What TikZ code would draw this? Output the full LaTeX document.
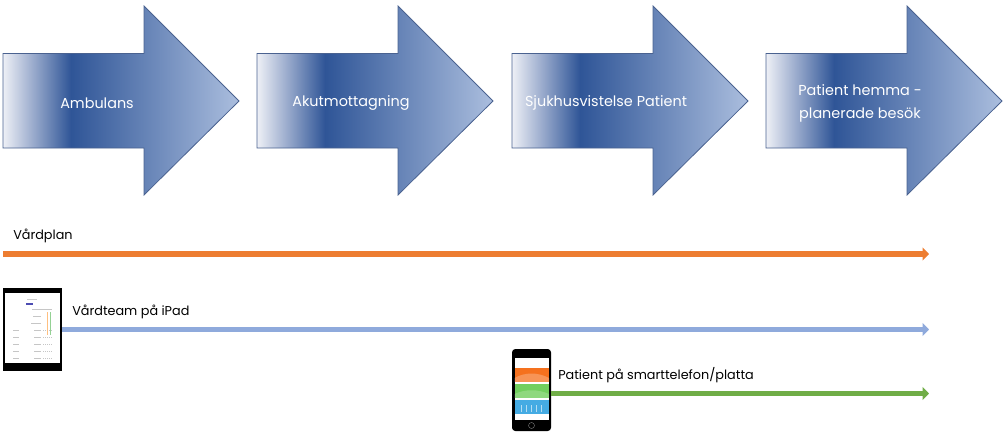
\documentclass[tikz,border=0pt]{standalone}
\usepackage{fontspec}
\setmainfont{Poppins}
\usetikzlibrary{arrows.meta}
\definecolor{fadeL}{HTML}{EEF0F6}
\definecolor{fadeB}{HTML}{9FAFCF}
\definecolor{fadeD}{HTML}{2F5597}
\definecolor{fadeR}{HTML}{ABBEDE}
\definecolor{stepedge}{HTML}{4A6290}
\definecolor{planorange}{HTML}{ED7D31}
\definecolor{teamblue}{HTML}{8FAADC}
\definecolor{patientgreen}{HTML}{70AD47}
\definecolor{bandorange}{HTML}{F5711E}
\definecolor{bandgreen}{HTML}{72CF5E}
\definecolor{bandblue}{HTML}{45ABE3}
\pgfdeclarehorizontalshading{arrowfade}{100bp}{
  color(0bp)=(fadeL); color(25bp)=(fadeL); color(31bp)=(fadeB); color(39.4bp)=(fadeD);
  color(75bp)=(fadeR); color(100bp)=(fadeR)}
\tikzset{
  steparrow/.style={shade, shading=arrowfade, draw=stepedge, line width=.6pt},
  steptext/.style={text=white, font=\fontsize{10.8}{17.25}\selectfont, align=center, inner sep=0pt},
  tracktext/.style={text=black, font=\fontsize{9.6}{13}\selectfont, anchor=west, inner sep=0pt},
  trackline/.style={line width=4.1pt, -{Triangle[length=4.8pt, width=9.5pt]}},
  device/.style={fill=black, inner sep=0pt, outer sep=0pt},
  screenrow/.style={gray!45, line width=.5pt}
}
\begin{document}
\begin{tikzpicture}[x=.75pt, y=-.75pt]
\useasboundingbox (0,0) rectangle (1005,436);
\foreach \x/\nm/\txt in {3/ambulans/Ambulans, 257/akut/Akutmottagning, 512/sjukhus/Sjukhusvistelse Patient, 766/hemma/{Patient hemma -\\planerade besök}}
{
    \path[steparrow] (\x,53.5)--(\x+141,53.5)--(\x+141,6)--(\x+236,101)--(\x+141,195)--(\x+141,148)--(\x,148)--cycle;
    \node[steptext] (\nm) at (\x+94,103) {\txt};
}

\node[tracktext] (vardplan) at (13,235.5) {Vårdplan};
\node[tracktext] (vardteam) at (72,311.5) {Vårdteam på iPad};
\node[tracktext] (patient) at (558,375) {Patient på smarttelefon/platta};

\node[device, minimum width=44.25pt, minimum height=62.25pt] (tablet) at (32.5,329.5) {};
\fill[white] (5,292.5) rectangle (60,363);
\foreach \y in {330,337,344,351,358}
{
    \draw[screenrow] (13,\y)--(19,\y);
    \draw[screenrow] (34,\y)--(41,\y);
    \draw[screenrow, densely dotted] (43,\y)--(53,\y);
}
\draw[screenrow] (32,309)--(52,309);
\draw[screenrow] (33,316)--(41,316);  \draw[screenrow] (31,323)--(41,323);
\draw[blue!40!gray, line width=1.6pt] (26,304)--(33,304);
\draw[gray!40, line width=.4pt] (27,299)--(37,299);
\draw[green!40!gray!60, line width=.4pt] (50,312)--(50,335);
\draw[orange!50, line width=.4pt] (47,312)--(47,335);

\node[device, rounded corners=2.5pt, minimum width=29.25pt, minimum height=61.5pt] (phone) at (531.5,390) {};
\fill[white] (514.5,358) rectangle (549,420);
\fill[bandorange] (514.5,368) rectangle (549,382);
\fill[bandgreen] (514.5,384) rectangle (549,398);
\fill[bandblue] (514.5,400) rectangle (549,414);
\fill[white, opacity=.25] (514.5,378) .. controls (525,372) and (538,372) .. (549,378)--(549,382)--(514.5,382)--cycle;
\fill[white, opacity=.2] (514.5,394) .. controls (525,389) and (538,389) .. (549,394)--(549,398)--(514.5,398)--cycle;
\foreach \x in {521,526,531,536,541}
{
    \draw[white, opacity=.6, line width=.6pt] (\x,412)--(\x,405);
}
\draw[gray, line width=.3pt] (531.5,425.5) circle (3);

\coordinate (planstart) at (3,254);
\coordinate (planend) at (929,254);
\coordinate (teamend) at (929,329.5);
\coordinate (patientstart) at (551,393.5);
\coordinate (patientend) at (929,393.5);
\draw[trackline, planorange] (planstart)--(planend);
\draw[trackline, teamblue] (tablet.east)--(teamend);
\draw[trackline, patientgreen] (patientstart)--(patientend);
\end{tikzpicture}
\end{document}
